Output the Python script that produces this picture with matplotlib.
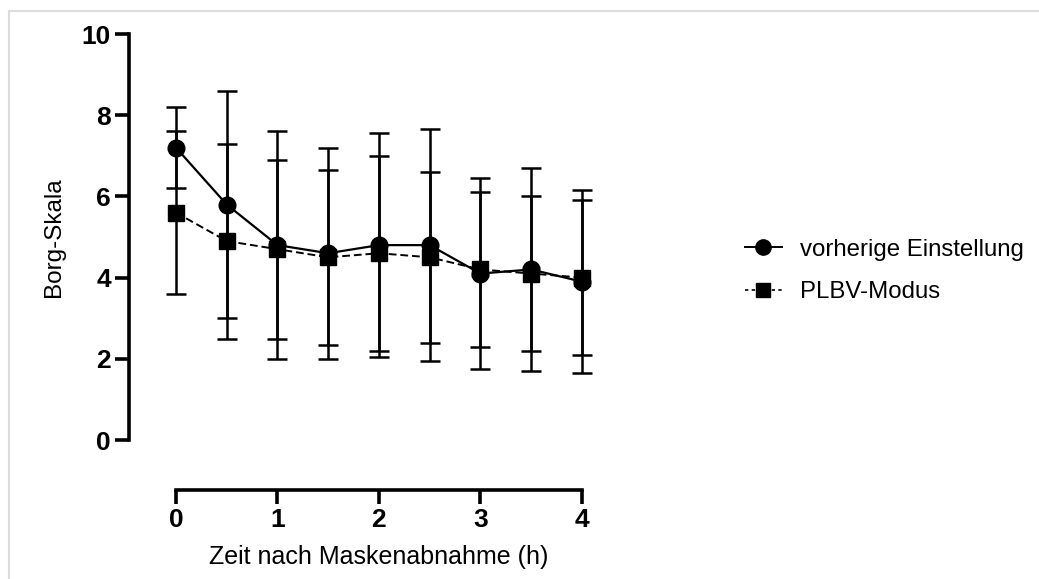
import matplotlib
matplotlib.use('Agg')
import matplotlib.pyplot as plt
from matplotlib.lines import Line2D

plt.rcParams['font.family'] = ['Liberation Sans', 'DejaVu Sans']

# Borg-Skala nach Maskenabnahme, Mittelwert +/- SD
zeit = [0, 0.5, 1, 1.5, 2, 2.5, 3, 3.5, 4]
vorherige_mean = [7.2, 5.8, 4.8, 4.6, 4.8, 4.8, 4.1, 4.2, 3.9]
vorherige_sd = [1.0, 2.8, 2.8, 2.6, 2.75, 2.85, 2.35, 2.5, 2.25]
plbv_mean = [5.6, 4.9, 4.7, 4.5, 4.6, 4.5, 4.2, 4.1, 4.0]
plbv_sd = [2.0, 2.4, 2.2, 2.15, 2.4, 2.1, 1.9, 1.9, 1.9]

x_ticks = [0, 1, 2, 3, 4]
y_ticks = [0, 2, 4, 6, 8, 10]

fig = plt.figure(figsize=(10.39, 5.79), dpi=100)
W, H = 1039, 579
ax = fig.add_axes([129 / W, 1 - 440 / H, 463 / W, 406 / H])

ax.errorbar(zeit, plbv_mean, yerr=plbv_sd, color='black', lw=1.4,
            ls='--', dashes=(4, 2), marker='s', ms=11, elinewidth=1.8,
            capsize=7, capthick=1.8, label='PLBV-Modus', zorder=3)
ax.errorbar(zeit, vorherige_mean, yerr=vorherige_sd, color='black', lw=1.6,
            ls='-', marker='o', ms=12, elinewidth=1.8,
            capsize=7, capthick=1.8, label='vorherige Einstellung', zorder=4)

ax.set_xlim(-0.463, 4.1)
ax.set_ylim(0, 10)
ax.spines['top'].set_visible(False)
ax.spines['right'].set_visible(False)
ax.spines['left'].set_linewidth(2.6)
ax.spines['bottom'].set_linewidth(2.6)
ax.spines['left'].set_bounds(0, 10)
ax.spines['bottom'].set_bounds(0, 4)
ax.spines['bottom'].set_position(('outward', 36))
ax.set_xticks(x_ticks)
ax.set_yticks(y_ticks)
ax.tick_params(width=2.6, length=10, labelsize=19, pad=3)
for lab in ax.get_xticklabels() + ax.get_yticklabels():
    lab.set_fontweight('bold')

ax.set_ylabel('Borg-Skala', fontsize=17.5)
ax.yaxis.set_label_coords(-0.138, 0.5)
ax.set_xlabel('Zeit nach Maskenabnahme (h)', fontsize=18)
ax.xaxis.set_label_coords(0.54, -0.258)

handles = [
    Line2D([], [], color='black', lw=1.4, marker='o', ms=11),
    Line2D([], [], color='black', lw=1.2, ls='--', dashes=(2, 2), marker='s', ms=10),
]
fig.legend(handles, ['vorherige Einstellung', 'PLBV-Modus'],
           loc='center left', bbox_to_anchor=(723 / W, 1 - 271 / H),
           frameon=False, fontsize=17.3, handlelength=1.55, handletextpad=0.75,
           labelspacing=0.85)

# light frame of the screenshot
fig.add_artist(Line2D([9 / W, 9 / W], [0, 1 - 11 / H], color='#dcdcdc',
                      lw=1.5, transform=fig.transFigure))
fig.add_artist(Line2D([9 / W, 1], [1 - 11 / H, 1 - 11 / H], color='#dcdcdc',
                      lw=1.5, transform=fig.transFigure))

fig.savefig('out.png', dpi=100)
